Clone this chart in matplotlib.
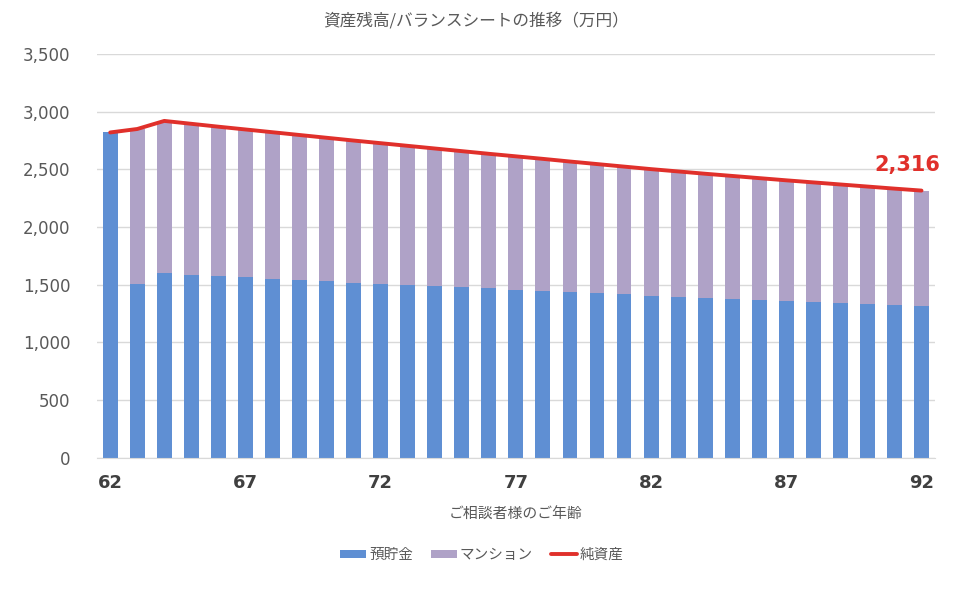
import matplotlib.pyplot as plt
import numpy as np

plt.rcParams['font.family'] = ['Noto Sans CJK JP', 'DejaVu Sans']

# ages (x categories)
ages = list(range(62, 93))

# 預貯金 (万円)
savings = [2820, 1510, 1598, 1586, 1574, 1563, 1552, 1541, 1530, 1519,
           1508, 1498, 1488, 1478, 1468, 1458, 1448, 1438, 1428, 1418,
           1406, 1397, 1387, 1378, 1368, 1359, 1350, 1341, 1332, 1323, 1312]

# マンション (万円)
condo = [0, 1340, 1322, 1309, 1296, 1283, 1270, 1257, 1244, 1231,
         1219, 1206, 1193, 1180, 1167, 1155, 1143, 1130, 1118, 1106,
         1096, 1085, 1075, 1065, 1056, 1046, 1037, 1028, 1019, 1010, 1004]

# 純資産 (万円)
net = [2820, 2850, 2920, 2895, 2870, 2846, 2822, 2798, 2774, 2750,
       2727, 2704, 2681, 2658, 2635, 2613, 2591, 2568, 2546, 2524,
       2502, 2482, 2462, 2443, 2424, 2405, 2387, 2369, 2351, 2333, 2316]

yticks = [0, 500, 1000, 1500, 2000, 2500, 3000, 3500]

blue = '#5F8FD3'
purple = '#AFA2C7'
red = '#E0302B'
gray = '#595959'

fig = plt.figure(figsize=(9.6, 5.99), dpi=100)
ax = fig.add_axes([0.1007, 0.2359, 0.8733, 0.6739])

x = np.arange(len(ages))
b1 = ax.bar(x, savings, width=0.55, color=blue, label='預貯金', zorder=2)
b2 = ax.bar(x, condo, width=0.55, bottom=savings, color=purple, label='マンション', zorder=2)
l1, = ax.plot(x, net, color=red, lw=2.8, label='純資産', zorder=3, solid_capstyle='round')

# value label on the last point
ax.annotate(f'{net[-1]:,}', (x[-1], net[-1]), xytext=(-10, 11), textcoords='offset points',
            ha='center', va='bottom', color=red, fontsize=15, fontweight='bold',
            family=['DejaVu Sans'])

ax.set_xlim(-0.5, len(ages) - 0.5)
ax.set_ylim(0, 3500)
ax.set_yticks(yticks)
ax.set_yticklabels([f'{v:,}' for v in yticks], color=gray, fontsize=12,
                   family=['DejaVu Sans'])
ax.set_xticks(x[::5])
ax.set_xticklabels([str(a) for a in ages[::5]], color='#404040', fontsize=13,
                   fontweight='bold', family=['DejaVu Sans'])
ax.tick_params(length=0)
ax.tick_params(axis='y', pad=19)
ax.tick_params(axis='x', pad=12)

ax.grid(axis='y', color='#D9D9D9', lw=1, zorder=0)
for s in ['top', 'right', 'left']:
    ax.spines[s].set_visible(False)
ax.spines['bottom'].set_color('#D9D9D9')

ax.set_xlabel('ご相談者様のご年齢', color=gray, fontsize=10.7, labelpad=11)
fig.suptitle('資産残高/バランスシートの推移（万円）', color=gray, fontsize=12, x=0.496, y=0.979)

fig.legend([b1, b2, l1], ['預貯金', 'マンション', '純資産'],
           loc='center', bbox_to_anchor=(0.502, 0.0735), ncol=3, frameon=False,
           fontsize=10.5, labelcolor=gray, handlelength=1.8, handleheight=0.5,
           columnspacing=1.2, handletextpad=0.2)

fig.savefig('out.png', dpi=100, facecolor='white')
